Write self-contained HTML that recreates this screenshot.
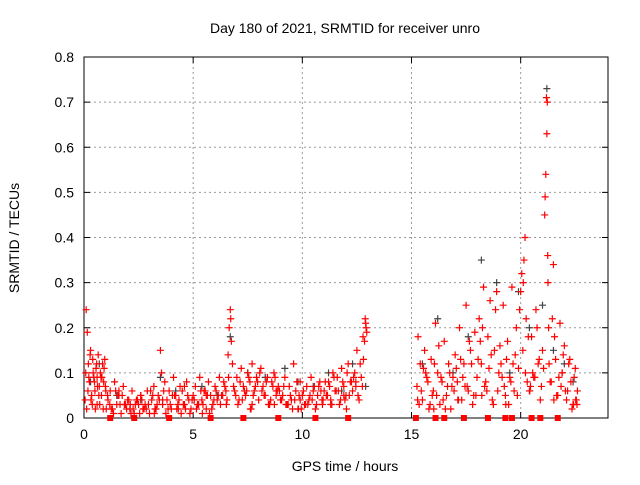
<!DOCTYPE html>
<html><head><meta charset="utf-8"><style>
body{margin:0;background:#fff;}
svg text{font-family:"Liberation Sans",sans-serif;font-size:14px;fill:#000;}
</style></head><body>
<svg id="c" width="640" height="480"></svg>
<script>
const xTicks=[0,5,10,15,20];
const yTicks=[0,0.1,0.2,0.3,0.4,0.5,0.6,0.7,0.8];
const yTickLabels=["0","0.1","0.2","0.3","0.4","0.5","0.6","0.7","0.8"];
const redT=[0.05,0.1,0.15,0.2,0.25,0.3,0.35,0.4,0.45,0.5,0.55,0.6,0.65,0.7,0.75,0.8,0.85,0.9,0.95,1.0,0.12,0.22,0.32,0.42,0.52,0.62,0.72,0.82,0.92,
1.1,1.2,1.3,1.4,1.5,1.6,1.7,1.8,1.9,2.0,2.1,2.2,2.3,2.4,2.5,2.6,2.7,2.8,2.9,3.0,3.1,3.2,3.3,3.4,3.5,3.6,3.7,3.8,3.9,4.0,4.1,4.2,4.3,4.4,1.25,1.55,1.85,2.15,2.45,2.75,3.05,3.35,3.55,3.85,4.15,
4.5,4.6,4.7,4.8,4.9,5.0,5.1,5.2,5.3,5.4,5.5,5.6,5.7,5.8,5.9,6.0,6.1,6.2,6.3,6.4,6.5,4.65,4.95,5.25,5.55,5.85,6.15,6.45,6.6,6.65,6.7,6.75,6.8,6.62,6.72,
6.9,7.0,7.1,7.2,7.3,7.4,7.5,7.6,7.7,7.8,7.9,8.0,8.1,8.2,8.3,8.4,8.5,8.6,8.7,8.8,8.9,9.0,7.05,7.35,7.65,7.95,8.25,8.55,8.85,
9.1,9.2,9.3,9.4,9.5,9.6,9.7,9.8,9.9,10.0,10.1,10.2,10.3,10.4,10.5,10.6,10.7,10.8,10.9,11.0,9.25,9.55,9.85,10.15,10.45,10.75,
11.1,11.2,11.3,11.4,11.5,11.6,11.7,11.8,11.9,12.0,12.1,12.2,12.3,12.4,12.5,12.6,12.7,12.8,12.85,12.9,12.95,11.35,11.65,11.95,12.25,12.55,12.75,12.88,
15.25,15.3,15.4,15.5,15.6,15.7,15.8,15.9,16.0,16.1,16.2,16.3,16.4,16.5,16.6,16.7,16.8,16.9,17.0,15.35,15.65,15.95,16.25,16.55,16.85,
17.1,17.2,17.3,17.4,17.5,17.6,17.7,17.8,17.9,18.0,17.25,17.45,17.65,17.85,
18.1,18.2,18.3,18.4,18.5,18.6,18.7,18.8,18.9,19.0,18.25,18.45,18.65,18.85,18.35,18.75,
19.1,19.2,19.3,19.4,19.5,19.6,19.7,19.8,19.9,20.0,20.05,20.1,20.15,20.2,20.25,20.3,19.45,19.75,19.95,20.12,20.22,
20.4,20.5,20.6,20.7,20.8,20.9,21.0,20.55,20.75,20.95,21.1,21.15,21.2,21.22,21.25,21.28,21.3,21.12,21.18,21.24,
21.4,21.5,21.6,21.7,21.8,21.9,22.0,22.1,22.2,22.3,22.4,22.5,22.6,21.55,21.75,21.95,22.15,22.35,22.55,21.45,21.85,22.25];
const redV=[0.04,0.24,0.19,0.12,0.08,0.15,0.05,0.13,0.09,0.06,0.11,0.03,0.14,0.07,0.1,0.05,0.12,0.08,0.13,0.06,0.02,0.09,0.04,0.1,0.02,0.07,0.03,0.09,0.11,
0.04,0.06,0.02,0.08,0.03,0.05,0.01,0.07,0.03,0.04,0.02,0.06,0.01,0.04,0.03,0.05,0.02,0.03,0.06,0.01,0.04,0.07,0.02,0.05,0.15,0.03,0.08,0.04,0.06,0.02,0.09,0.05,0.03,0.07,0.02,0.05,0.03,0.01,0.04,0.02,0.06,0.03,0.1,0.02,0.05,
0.06,0.03,0.08,0.04,0.02,0.05,0.07,0.03,0.09,0.04,0.06,0.02,0.08,0.05,0.03,0.07,0.04,0.09,0.05,0.08,0.06,0.02,0.04,0.03,0.06,0.02,0.05,0.07,0.14,0.2,0.24,0.17,0.12,0.09,0.22,
0.06,0.09,0.04,0.11,0.07,0.05,0.1,0.08,0.12,0.06,0.09,0.04,0.11,0.07,0.05,0.09,0.03,0.08,0.1,0.05,0.07,0.04,0.03,0.06,0.02,0.08,0.05,0.04,0.06,
0.05,0.09,0.03,0.07,0.04,0.12,0.06,0.02,0.08,0.05,0.03,0.07,0.04,0.09,0.06,0.02,0.05,0.08,0.04,0.06,0.03,0.02,0.05,0.03,0.04,0.07,
0.05,0.08,0.04,0.1,0.06,0.09,0.03,0.11,0.07,0.05,0.12,0.08,0.06,0.1,0.15,0.04,0.09,0.13,0.17,0.21,0.19,0.03,0.06,0.04,0.08,0.05,0.07,0.22,
0.07,0.18,0.12,0.04,0.15,0.09,0.02,0.13,0.06,0.21,0.1,0.03,0.08,0.17,0.05,0.12,0.02,0.09,0.14,0.03,0.1,0.05,0.16,0.02,0.07,
0.08,0.2,0.04,0.12,0.25,0.06,0.15,0.03,0.19,0.09,0.13,0.07,0.17,0.05,
0.22,0.12,0.29,0.08,0.18,0.26,0.04,0.15,0.28,0.1,0.2,0.06,0.14,0.24,0.07,0.03,
0.12,0.25,0.05,0.17,0.09,0.29,0.06,0.2,0.11,0.28,0.32,0.15,0.35,0.4,0.22,0.08,0.03,0.14,0.24,0.3,0.1,
0.06,0.18,0.09,0.24,0.12,0.04,0.15,0.1,0.2,0.07,0.45,0.54,0.63,0.7,0.3,0.2,0.12,0.49,0.71,0.36,
0.08,0.34,0.13,0.05,0.21,0.1,0.16,0.04,0.12,0.08,0.03,0.11,0.06,0.18,0.09,0.14,0.06,0.02,0.04,0.22,0.07,0.13];
const redT2=[0.08,0.18,0.28,0.38,0.48,0.58,0.68,0.78,0.88,0.98,1.08,1.18,1.35,1.45,1.65,1.75,1.95,2.05,2.25,2.35,2.55,2.65,2.85,2.95,3.15,3.25,3.45,3.65,3.75,3.95,4.05,4.25,4.35,4.45,
4.55,4.75,4.85,5.05,5.15,5.35,5.45,5.65,5.75,5.95,6.05,6.25,6.35,6.55,6.85,6.95,7.15,7.25,7.45,7.55,7.75,7.85,8.05,8.15,8.35,8.45,8.65,8.75,8.95,9.05,9.15,9.35,9.45,9.65,9.75,9.95,10.05,10.25,10.35,10.55,10.65,10.85,10.95,11.05,11.15,11.25,11.45,11.55,11.75,11.85,12.05,12.15,12.35,12.45,12.65,12.78,12.92,
15.28,15.45,15.55,15.75,15.85,16.05,16.15,16.35,16.45,16.65,16.75,16.95,17.05,17.15,17.35,17.55,17.75,17.95,18.05,18.15,18.55,18.95,19.05,19.15,19.25,19.35,19.55,19.65,19.85,20.35,20.45,20.65,20.85,21.05,21.35,21.65,21.9,22.05,22.45,22.52,22.58,
1.02,2.12,3.22,4.32,5.42,6.52,7.62,8.72,9.82,10.92,12.02,16.02,17.12,18.22,19.32,20.42,21.52,22.42,0.6,1.6,2.6,3.6,4.6,5.6,7.7,8.8,9.9,11.3,11.9,12.45];
const redV2=[0.1,0.06,0.14,0.03,0.08,0.12,0.05,0.09,0.02,0.07,0.05,0.03,0.01,0.06,0.03,0.05,0.02,0.04,0.02,0.03,0.01,0.04,0.02,0.03,0.05,0.02,0.04,0.06,0.01,0.03,0.05,0.02,0.04,0.01,
0.03,0.05,0.01,0.04,0.02,0.06,0.03,0.05,0.01,0.04,0.06,0.03,0.05,0.04,0.07,0.05,0.08,0.04,0.06,0.09,0.05,0.07,0.1,0.06,0.08,0.03,0.07,0.09,0.06,0.04,0.07,0.03,0.05,0.04,0.08,0.02,0.06,0.03,0.05,0.07,0.03,0.06,0.04,0.08,0.05,0.07,0.09,0.06,0.04,0.08,0.1,0.05,0.09,0.07,0.12,0.18,0.2,
0.04,0.06,0.11,0.08,0.03,0.12,0.05,0.09,0.04,0.07,0.1,0.06,0.11,0.04,0.09,0.07,0.12,0.05,0.13,0.17,0.11,0.06,0.16,0.09,0.07,0.13,0.08,0.12,0.05,0.18,0.07,0.09,0.13,0.11,0.08,0.05,0.1,0.06,0.09,0.04,0.03,
0.02,0.03,0.01,0.02,0.01,0.03,0.02,0.03,0.02,0.03,0.02,0.02,0.04,0.05,0.03,0.06,0.04,0.03,0.09,0.06,0.05,0.04,0.07,0.05,0.03,0.06,0.04,0.03,0.05,0.08];
const grayT=[0.3,0.7,1.5,2.6,3.5,4.2,5.4,6.1,6.7,7.5,8.3,9.2,9.8,10.5,11.2,11.8,12.3,12.9,15.5,16.2,16.9,17.6,18.2,18.9,19.5,19.9,20.4,21.0,21.2,21.5,22.0,22.4];
const grayV=[0.08,0.12,0.05,0.04,0.09,0.06,0.07,0.05,0.18,0.1,0.09,0.11,0.08,0.07,0.1,0.06,0.12,0.07,0.12,0.22,0.1,0.18,0.35,0.3,0.1,0.28,0.2,0.25,0.73,0.15,0.12,0.08];
const zeroT=[1.2,2.3,3.9,5.8,7.3,8.9,10.6,12.1,15.2,16.1,16.5,17.4,18.5,19.3,19.6,20.5,20.9,21.7];

const L=84,R=608,T=57,B=418;
const sx=v=>L+(v/24)*(R-L), sy=v=>B-(v/0.8)*(B-T);
const svg=document.getElementById('c');const NS="http://www.w3.org/2000/svg";
function mk(tag,a,parent){const e=document.createElementNS(NS,tag);for(const k in a)e.setAttribute(k,a[k]);(parent||svg).appendChild(e);return e;}
const grid=mk('g',{});


xTicks.forEach(t=>{if(t>0)mk('line',{x1:sx(t),x2:sx(t),y1:T,y2:B,stroke:'#999','stroke-dasharray':'2,3','stroke-width':1},grid);});
yTicks.forEach(t=>{if(t>0&&t<0.8)mk('line',{x1:L,x2:R,y1:sy(t),y2:sy(t),stroke:'#999','stroke-dasharray':'2,3','stroke-width':1},grid);});
const ax=mk('g',{});


mk('rect',{x:L,y:T,width:R-L,height:B-T,fill:'none',stroke:'#000','stroke-width':1},ax);
xTicks.forEach(t=>{mk('line',{x1:sx(t),x2:sx(t),y1:B,y2:B-6,stroke:'#000'},ax);mk('line',{x1:sx(t),x2:sx(t),y1:T,y2:T+6,stroke:'#000'},ax);
const tx=mk('text',{x:sx(t),y:B+21,'text-anchor':'middle'},ax);tx.textContent=t;

});
yTicks.forEach((t,i)=>{mk('line',{x1:L,x2:L+6,y1:sy(t),y2:sy(t),stroke:'#000'},ax);mk('line',{x1:R,x2:R-6,y1:sy(t),y2:sy(t),stroke:'#000'},ax);
const tx=mk('text',{x:L-10,y:sy(t)+5,'text-anchor':'end'},ax);tx.textContent=yTickLabels[i];

});
function plus(g,x,y,c){mk('path',{d:`M${x-3.5},${y}h7M${x},${y-3.5}v7`,stroke:c,'stroke-width':1.2,fill:'none'},g);}
const gs=mk('g',{});


grayT.forEach((t,i)=>plus(gs,sx(t),sy(grayV[i]),'#444'));
const rs=mk('g',{});


redT.forEach((t,i)=>plus(rs,sx(t),sy(redV[i]),'#f00'));
redT2.forEach((t,i)=>plus(rs,sx(t),sy(redV2[i]),'#f00'));
zeroT.forEach(t=>mk('rect',{x:sx(t)-3,y:B-3,width:6,height:6,fill:'#f00'},rs));
const title=mk('text',{x:345,y:33,'text-anchor':'middle'});title.textContent='Day 180 of 2021, SRMTID for receiver unro';


const xl=mk('text',{x:345,y:471,'text-anchor':'middle'});xl.textContent='GPS time / hours';


const yl=mk('text',{x:0,y:0,'text-anchor':'middle',transform:'translate(19,238) rotate(-90)'});yl.textContent='SRMTID / TECUs';


</script>
</body></html>
